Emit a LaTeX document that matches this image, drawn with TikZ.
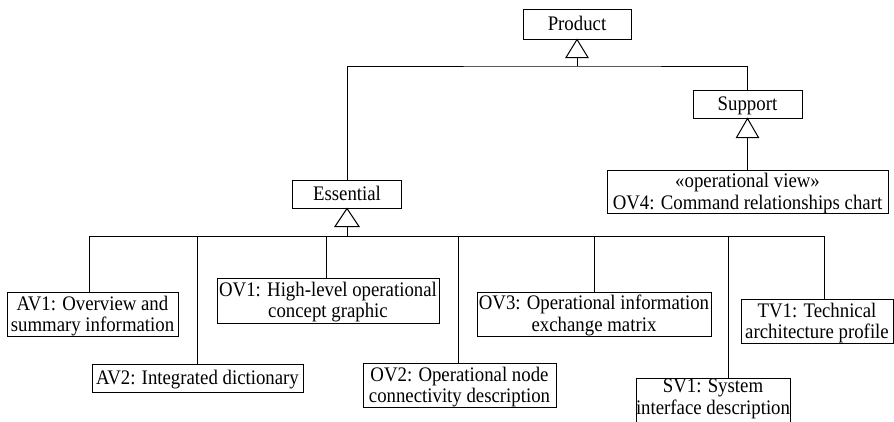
\documentclass[tikz,border=0pt]{standalone}
\usepackage{fontspec}
\usepackage{graphicx}
\setmainfont{Liberation Serif}
\usetikzlibrary{calc}
% centred lines of a label, set slightly taller than the font's own shapes;
% the optional argument shifts the lines up or down inside their box
\newcommand\lbl[2][-2.3pt]{\raisebox{#1}[\height][\depth]{\scalebox{1}[1.1]{\begin{tabular}{@{}c@{}}#2\end{tabular}}}}
\begin{document}
\begin{tikzpicture}[x=1pt,y=-1pt,
  line width=1pt,
  box/.style={draw, line width=1pt, inner sep=0pt,
    font=\fontsize{18.8}{19.6}\selectfont},
  gentri/.style={draw, fill=white, line width=1pt, line join=miter}]
\useasboundingbox (0,0) rectangle (894,421);
\clip (0,0) rectangle (894,421);

% classes
\node[box, minimum width=108pt, minimum height=30pt] (product) at (577,24) {\lbl{Product}};
\node[box, minimum width=109pt, minimum height=28pt] (support) at (747.5,104) {\lbl{Support}};
\node[box, minimum width=281pt, minimum height=42pt] (ov4) at (747.5,192)
  {\lbl{«operational view»\\OV4: Command relationships chart}};
\node[box, minimum width=109pt, minimum height=28pt] (ess) at (347,194) {\lbl{Essential}};

\node[box, minimum width=171pt, minimum height=43pt] (av1) at (92.5,314.5)
  {\lbl{AV1: Overview and\\summary information}};
\node[box, minimum width=211pt, minimum height=28pt] (av2) at (197.5,378)
  {\lbl{AV2: Integrated dictionary}};
\node[box, minimum width=222pt, minimum height=45pt] (ov1) at (328,300.5)
  {\lbl{OV1: High-level operational\\concept graphic}};
\node[box, minimum width=193pt, minimum height=43pt] (ov2) at (459.5,385.5)
  {\lbl{OV2: Operational node\\connectivity description}};
\node[box, minimum width=234pt, minimum height=44pt] (ov3) at (594,314)
  {\lbl{OV3: Operational information\\exchange matrix}};
\node[box, minimum width=130pt, minimum height=48pt] (sv1) at (713,402)
  {\lbl[3pt]{SV1: System\\interface description}};
\node[box, minimum width=152pt, minimum height=43pt] (tv1) at (817,321.5)
  {\lbl{TV1: Technical\\architecture profile}};

% generalization: Essential and Support under Product
\coordinate (top) at (577,66);
\draw (ess.north) |- (top) -| (support.north);
\draw (top) -- ($(product.south)+(0,18)$);
\path[gentri] (product.south) -- ++(11,18) -- ++(-22,0) -- cycle;

% generalization: OV4 under Support
\draw (ov4.north) -- ($(support.south)+(0,19)$);
\path[gentri] (support.south) -- ++(11,19) -- ++(-22,0) -- cycle;

% generalization: views under Essential
\coordinate (bus) at (347,236);
\coordinate (bAV1) at (89,236);
\coordinate (bAV2) at (197.3,236);
\coordinate (bOV1) at (326.7,236);
\coordinate (bOV2) at (458.3,236);
\coordinate (bOV3) at (594,236);
\coordinate (bSV1) at (728.7,236);
\coordinate (bTV1) at (824,236);
\draw (bAV1) -- (bTV1);
\draw (bus) -- ($(ess.south)+(0,18)$);
\path[gentri] (ess.south) -- ++(12,18) -- ++(-24,0) -- cycle;
\foreach \b/\n in {bAV1/av1, bAV2/av2, bOV1/ov1, bOV2/ov2, bOV3/ov3, bSV1/sv1, bTV1/tv1}
  \draw (\b) -- (\b |- \n.north);
\end{tikzpicture}
\end{document}
